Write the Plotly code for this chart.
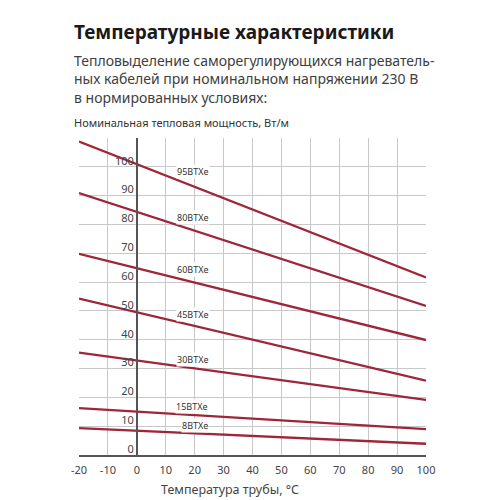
import plotly.graph_objects as go

temps = [-20, 100]
cables = ["95BTXe", "80BTXe", "60BTXe", "45BTXe", "30BTXe", "15BTXe", "8BTXe"]
power_start = [108.8, 90.9, 69.8, 54.3, 35.5, 16.3, 9.3]
power_end = [61.6, 51.7, 39.9, 25.8, 19.1, 9.0, 3.9]
label_x = [19.5, 19.5, 19.5, 19.5, 19.5, 19, 20]
label_y = [98.4, 82.3, 64.2, 48.6, 33.3, 16.8, 10.4]

x_ticks = list(range(-20, 101, 10))
x_ticktext = [str(v) for v in x_ticks]
y_ticks = list(range(0, 111, 10))
y_ticktext = [str(v) for v in range(0, 101, 10)] + [""]

FONT = "Noto Sans"
LINE_COLOR = "#9e2638"

fig = go.Figure()
for name, a, b in zip(cables, power_start, power_end):
    fig.add_trace(go.Scatter(x=temps, y=[a, b], mode="lines", name=name,
                             line=dict(color=LINE_COLOR, width=2.3),
                             showlegend=False, hoverinfo="skip"))

for name, lx, ly in zip(cables, label_x, label_y):
    fig.add_annotation(x=lx, y=ly, text=name, showarrow=False,
                       font=dict(family=FONT, size=9, color="#333333"),
                       bgcolor="white", borderpad=0)

# Title and subtitle
fig.add_annotation(xref="paper", yref="paper", x=-0.02, y=1.0, xanchor="left", yanchor="middle",
                   yshift=106, text="<b>Температурные характеристики</b>", showarrow=False,
                   font=dict(family=FONT, size=19, color="#1a1a1a"))
subtitle = ["Тепловыделение саморегулирующихся нагреватель-",
            "ных кабелей при номинальном напряжении 230 В",
            "в нормированных условиях:"]
for line, shift in zip(subtitle, [77.5, 59.5, 41]):
    fig.add_annotation(xref="paper", yref="paper", x=-0.02, y=1.0, xanchor="left",
                       yanchor="middle", yshift=shift, text=line, showarrow=False,
                       font=dict(family=FONT, size=14, color="#404040"))
fig.add_annotation(xref="paper", yref="paper", x=-0.02, y=1.0, xanchor="left", yanchor="middle",
                   yshift=16, text="Номинальная тепловая мощность, Вт/м", showarrow=False,
                   font=dict(family=FONT, size=11, color="#333333"))
fig.add_annotation(xref="paper", yref="paper", x=(230 - 79) / 347, y=0, xanchor="center",
                   yanchor="middle", yshift=-34, text="Температура трубы, °С", showarrow=False,
                   font=dict(family=FONT, size=12.5, color="#444444"))

fig.update_layout(
    width=500, height=500,
    margin=dict(l=79, r=74, t=138, b=45),
    paper_bgcolor="white", plot_bgcolor="white",
    xaxis=dict(range=[-20, 100], tickvals=x_ticks, ticktext=x_ticktext, showgrid=True,
               gridcolor="#c8c8c8", gridwidth=1, zeroline=False, showline=True,
               linecolor="#555555", linewidth=1.5,
               ticks="", tickfont=dict(family=FONT, size=11, color="#444444"),
               ticklabelstandoff=4),
    yaxis=dict(range=[0, 110], tickvals=y_ticks, ticktext=y_ticktext, showgrid=True,
               gridcolor="#c8c8c8", gridwidth=1, zeroline=False, showline=True,
               linecolor="#555555", linewidth=1.5, anchor="free", position=20 / 120,
               ticks="", tickfont=dict(family=FONT, size=11, color="#444444"),
               ticklabelshift=-6),
)

fig.write_html("out.html")
